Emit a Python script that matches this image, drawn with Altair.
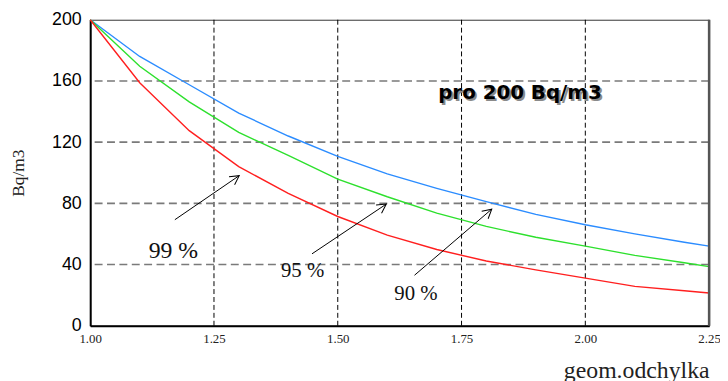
import math
import altair as alt
import pandas as pd

# ---- data ----
x_vals = [1.0, 1.1, 1.2, 1.3, 1.4, 1.5, 1.6, 1.7, 1.8, 1.9, 2.0, 2.1, 2.2, 2.25]
p90 = [200, 176.0, 157.5, 139.0, 124.0, 110.7, 99.2, 89.8, 81.1, 72.8, 66.0, 60.0, 54.6, 52.0]
p95 = [200, 169.6, 146.3, 126.4, 111.3, 95.8, 84.3, 73.6, 64.9, 57.8, 52.0, 46.0, 41.2, 38.6]
p99 = [200, 158.8, 127.5, 104.0, 86.5, 71.4, 59.2, 49.8, 42.3, 36.5, 31.1, 25.7, 22.9, 21.4]
series_names = ["90 %", "95 %", "99 %"]
series_colors = ["#2b8cff", "#2de02d", "#ff1f1f"]

x_ticks = [1.0, 1.25, 1.5, 1.75, 2.0, 2.25]
y_ticks = [0, 40, 80, 120, 160, 200]

label_text = ["99 %", "95 %", "90 %"]
label_x = [1.168, 1.429, 1.658]
label_y = [48.5, 35.6, 20.7]
label_size = [24, 21, 21]

arrow_x1 = [1.171, 1.448, 1.655]
arrow_y1 = [69.3, 47.0, 33.0]
arrow_x2 = [1.301, 1.598, 1.811]
arrow_y2 = [98.1, 79.5, 76.2]

title_text = ["pro 200 Bq/m3"]
title_x = [1.868]
title_y = [152.0]

# ---- layout ----
W, H = 625, 309
xs = alt.Scale(domain=[x_ticks[0], x_ticks[-1]], nice=False, zero=False)
ys = alt.Scale(domain=[y_ticks[0], y_ticks[-1]], nice=False, zero=False)

x_axis = alt.Axis(values=x_ticks, format=".2f", labelFont="Liberation Serif",
                  labelFontSize=13, labelColor="#222", ticks=False, grid=False,
                  domainColor="black", domainWidth=2, labelPadding=7, labelFlush=False,
                  title="geom.odchylka", titleFont="Liberation Serif", titleFontSize=24,
                  titleFontWeight="normal", titleColor="#222", titleAlign="right",
                  titleAnchor="end", titleX=W, titleY=52, titleBaseline="alphabetic")
y_axis = alt.Axis(values=y_ticks, labelFont="Liberation Sans", labelFontSize=18,
                  labelColor="black", ticks=False, grid=False, domainColor="black",
                  domainWidth=2, labelPadding=9, title="Bq/m3",
                  titleFont="Liberation Serif", titleFontSize=17.5, titleFontWeight="normal",
                  titleColor="#222", titleX=-72, titleY=H / 2, titleBaseline="middle",
                  titleAlign="center")


def X(field):
    return alt.X(field, type="quantitative", scale=xs, axis=x_axis)


def Y(field):
    return alt.Y(field, type="quantitative", scale=ys, axis=y_axis)


rows = []
for name, vals in zip(series_names, [p90, p95, p99]):
    for xv, yv in zip(x_vals, vals):
        rows.append({"x": xv, "v": yv, "s": name})
df_lines = pd.DataFrame(rows)

df_gx = pd.DataFrame({"gx": x_ticks[1:-1]})
df_gy = pd.DataFrame({"gy": y_ticks[1:-1]})
df_right = pd.DataFrame({"rx": [x_ticks[-1]]})

px_per_x = W / (x_ticks[-1] - x_ticks[0])
px_per_y = H / (y_ticks[-1] - y_ticks[0])
angles = [math.degrees(math.atan2((b - a) * px_per_x, (d - c) * px_per_y)) % 360
          for a, b, c, d in zip(arrow_x1, arrow_x2, arrow_y1, arrow_y2)]
df_arrows = pd.DataFrame({"x1": arrow_x1, "y1": arrow_y1, "x2": arrow_x2,
                          "y2": arrow_y2, "ang": angles})
df_labels = pd.DataFrame({"lx": label_x, "ly": label_y, "t": label_text, "fs": label_size})
df_title = pd.DataFrame({"tx": title_x, "ty": title_y, "t": title_text})

grid_x = alt.Chart(df_gx).mark_rule(color="black", strokeWidth=1, strokeDash=[5, 3]).encode(x=X("gx"))
grid_y = alt.Chart(df_gy).mark_rule(color="#7a7a7a", strokeWidth=1.6, strokeDash=[8, 4.5]).encode(y=Y("gy"))
right_border = alt.Chart(df_right).mark_rule(color="#555", strokeWidth=2.5).encode(x=X("rx"))

lines = alt.Chart(df_lines).mark_line(strokeWidth=1.4, interpolate="linear").encode(
    x=X("x"), y=Y("v"),
    color=alt.Color("s:N", scale=alt.Scale(domain=series_names, range=series_colors), legend=None),
    detail="s:N",
)

arrow_lines = alt.Chart(df_arrows).mark_rule(color="black", strokeWidth=1).encode(
    x=X("x1"), y=Y("y1"), x2="x2", y2="y2")
arrow_heads = alt.Chart(df_arrows).mark_point(
    shape="M-0.55,1L0,0L0.55,1", filled=False, color="black", strokeWidth=1, size=330, opacity=1
).encode(x=X("x2"), y=Y("y2"), angle=alt.Angle("ang:Q", scale=None))

labels = alt.Chart(df_labels).mark_text(font="Liberation Serif", color="#111",
                                        align="center", baseline="middle").encode(
    x=X("lx"), y=Y("ly"), text="t:N", size=alt.Size("fs:Q", scale=None))

title_shadow = alt.Chart(df_title).mark_text(font="DejaVu Sans", fontWeight="bold", fontSize=20,
                                             color="#8a8a8a", dx=2, dy=2,
                                             align="center", baseline="middle").encode(
    x=X("tx"), y=Y("ty"), text="t:N")
title_main = alt.Chart(df_title).mark_text(font="DejaVu Sans", fontWeight="bold", fontSize=20,
                                           color="black", align="center", baseline="middle").encode(
    x=X("tx"), y=Y("ty"), text="t:N")

chart = alt.layer(grid_x, grid_y, lines, arrow_lines, arrow_heads, labels,
                  title_shadow, title_main, right_border).properties(
    width=W, height=H,
    padding={"left": 83, "top": 10, "right": 11, "bottom": 58},
    autosize=alt.AutoSizeParams(type="none"),
    background="white",
).configure_view(stroke="#333", strokeWidth=1)

chart.save("out.html", embed_options={"renderer": "svg", "actions": False})
